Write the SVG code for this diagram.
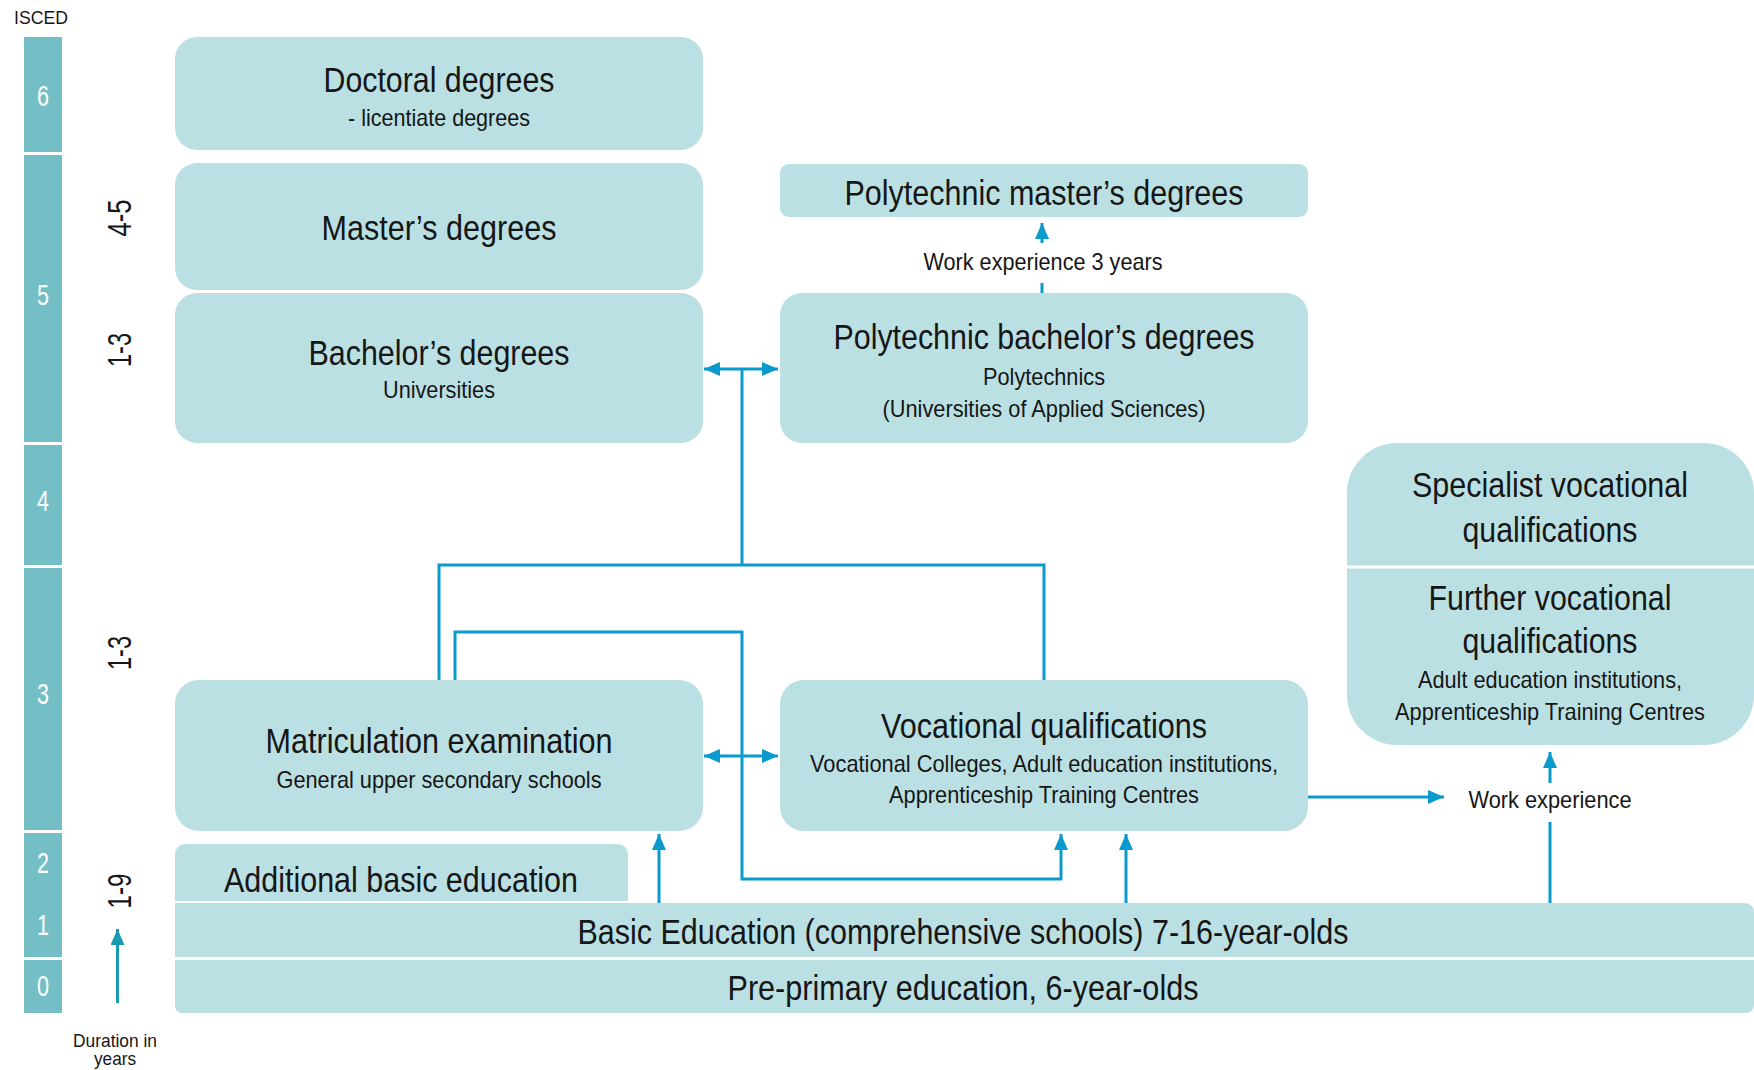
<svg xmlns="http://www.w3.org/2000/svg" width="1754" height="1070" viewBox="0 0 1754 1070">
  <style>
    text { font-family: "Liberation Sans", Arial, sans-serif; fill: #161616; text-anchor: middle; }
    .box { fill: #bbe0e3; }
    .lvl { fill: #74bfc5; }
    .lvl-num { fill: #ffffff; font-size: 29px; }
    .title { font-size: 35px; }
    .sub { font-size: 24px; }
    .small { font-size: 19px; }
    .dur { font-size: 33px; }
    .link { fill: none; stroke: #0a9acd; stroke-width: 3; }
    .link-teal { fill: none; stroke: #1a9ab2; stroke-width: 3; }
  </style>
  <defs>
    <marker id="arrow" markerUnits="userSpaceOnUse" markerWidth="16" markerHeight="14" refX="16" refY="7" orient="auto-start-reverse">
      <path d="M0,0 L16,7 L0,14 z" fill="#0a9acd"/>
    </marker>
    <marker id="arrow-teal" markerUnits="userSpaceOnUse" markerWidth="16" markerHeight="14" refX="16" refY="7" orient="auto">
      <path d="M0,0 L16,7 L0,14 z" fill="#1a9ab2"/>
    </marker>
  </defs>

  <!-- ISCED level scale -->
  <g id="isced-scale">
    <text class="small" x="41" y="24" textLength="54" lengthAdjust="spacingAndGlyphs">ISCED</text>
    <rect class="lvl" x="24" y="37" width="38" height="115"/>
    <rect class="lvl" x="24" y="155" width="38" height="287"/>
    <rect class="lvl" x="24" y="445" width="38" height="120"/>
    <rect class="lvl" x="24" y="568" width="38" height="262"/>
    <rect class="lvl" x="24" y="833" width="38" height="124"/>
    <rect class="lvl" x="24" y="960" width="38" height="53"/>
    <text class="lvl-num" x="43" y="106" textLength="12" lengthAdjust="spacingAndGlyphs">6</text>
    <text class="lvl-num" x="43" y="305" textLength="12" lengthAdjust="spacingAndGlyphs">5</text>
    <text class="lvl-num" x="43" y="511" textLength="12" lengthAdjust="spacingAndGlyphs">4</text>
    <text class="lvl-num" x="43" y="704" textLength="12" lengthAdjust="spacingAndGlyphs">3</text>
    <text class="lvl-num" x="43" y="873" textLength="12" lengthAdjust="spacingAndGlyphs">2</text>
    <text class="lvl-num" x="43" y="935" textLength="12" lengthAdjust="spacingAndGlyphs">1</text>
    <text class="lvl-num" x="43" y="996" textLength="12" lengthAdjust="spacingAndGlyphs">0</text>
  </g>

  <!-- Duration in years -->
  <g id="duration">
    <text class="dur" transform="translate(131,218) rotate(-90)" textLength="37" lengthAdjust="spacingAndGlyphs">4-5</text>
    <text class="dur" transform="translate(131,350) rotate(-90)" textLength="34" lengthAdjust="spacingAndGlyphs">1-3</text>
    <text class="dur" transform="translate(131,653) rotate(-90)" textLength="34" lengthAdjust="spacingAndGlyphs">1-3</text>
    <text class="dur" transform="translate(131,891) rotate(-90)" textLength="35" lengthAdjust="spacingAndGlyphs">1-9</text>
    <path class="link-teal" d="M117.5,1003 V929" marker-end="url(#arrow-teal)"/>
    <text class="small" x="115" y="1047" textLength="84" lengthAdjust="spacingAndGlyphs">Duration in</text>
    <text class="small" x="115" y="1065" textLength="42" lengthAdjust="spacingAndGlyphs">years</text>
  </g>

  <g id="doctoral">
    <rect class="box" x="175" y="37" width="528" height="113" rx="22"/>
    <text class="title" x="439" y="92" textLength="231" lengthAdjust="spacingAndGlyphs">Doctoral degrees</text>
    <text class="sub" x="439" y="126" textLength="182" lengthAdjust="spacingAndGlyphs">- licentiate degrees</text>
  </g>

  <g id="masters">
    <rect class="box" x="175" y="163" width="528" height="127" rx="22"/>
    <text class="title" x="439" y="240" textLength="235" lengthAdjust="spacingAndGlyphs">Master’s degrees</text>
  </g>

  <g id="bachelors">
    <rect class="box" x="175" y="293" width="528" height="150" rx="22"/>
    <text class="title" x="439" y="365" textLength="261" lengthAdjust="spacingAndGlyphs">Bachelor’s degrees</text>
    <text class="sub" x="439" y="398" textLength="112" lengthAdjust="spacingAndGlyphs">Universities</text>
  </g>

  <g id="poly-masters">
    <rect class="box" x="780" y="164" width="528" height="53" rx="9"/>
    <text class="title" x="1044" y="205" textLength="399" lengthAdjust="spacingAndGlyphs">Polytechnic master’s degrees</text>
  </g>

  <g id="poly-bachelors">
    <rect class="box" x="780" y="293" width="528" height="150" rx="22"/>
    <text class="title" x="1044" y="349" textLength="421" lengthAdjust="spacingAndGlyphs">Polytechnic bachelor’s degrees</text>
    <text class="sub" x="1044" y="385" textLength="122" lengthAdjust="spacingAndGlyphs">Polytechnics</text>
    <text class="sub" x="1044" y="417" textLength="323" lengthAdjust="spacingAndGlyphs">(Universities of Applied Sciences)</text>
  </g>

  <g id="specialist-further">
    <rect class="box" x="1347" y="443" width="407" height="302" rx="50"/>
    <line x1="1347" y1="567" x2="1754" y2="567" stroke="#ffffff" stroke-width="3"/>
    <text class="title" x="1550" y="497" textLength="276" lengthAdjust="spacingAndGlyphs">Specialist vocational</text>
    <text class="title" x="1550" y="542" textLength="175" lengthAdjust="spacingAndGlyphs">qualifications</text>
    <text class="title" x="1550" y="610" textLength="243" lengthAdjust="spacingAndGlyphs">Further vocational</text>
    <text class="title" x="1550" y="653" textLength="175" lengthAdjust="spacingAndGlyphs">qualifications</text>
    <text class="sub" x="1550" y="688" textLength="264" lengthAdjust="spacingAndGlyphs">Adult education institutions,</text>
    <text class="sub" x="1550" y="720" textLength="310" lengthAdjust="spacingAndGlyphs">Apprenticeship Training Centres</text>
  </g>

  <g id="matriculation">
    <rect class="box" x="175" y="680" width="528" height="151" rx="24"/>
    <text class="title" x="439" y="753" textLength="347" lengthAdjust="spacingAndGlyphs">Matriculation examination</text>
    <text class="sub" x="439" y="788" textLength="325" lengthAdjust="spacingAndGlyphs">General upper secondary schools</text>
  </g>

  <g id="vocational">
    <rect class="box" x="780" y="680" width="528" height="151" rx="24"/>
    <text class="title" x="1044" y="738" textLength="326" lengthAdjust="spacingAndGlyphs">Vocational qualifications</text>
    <text class="sub" x="1044" y="772" textLength="468" lengthAdjust="spacingAndGlyphs">Vocational Colleges, Adult education institutions,</text>
    <text class="sub" x="1044" y="803" textLength="310" lengthAdjust="spacingAndGlyphs">Apprenticeship Training Centres</text>
  </g>

  <g id="additional-basic">
    <path class="box" d="M175,901 V856 Q175,844 187,844 H616 Q628,844 628,856 V901 Z"/>
    <text class="title" x="401" y="892" textLength="354" lengthAdjust="spacingAndGlyphs">Additional basic education</text>
  </g>

  <g id="basic-education">
    <path class="box" d="M175,903 H1744 Q1754,903 1754,913 V957 H175 Z"/>
    <text class="title" x="963" y="944" textLength="771" lengthAdjust="spacingAndGlyphs">Basic Education (comprehensive schools) 7-16-year-olds</text>
  </g>

  <g id="pre-primary">
    <path class="box" d="M175,960 H1754 V1004 Q1754,1013 1745,1013 H183 Q175,1013 175,1005 Z"/>
    <text class="title" x="963" y="1000" textLength="471" lengthAdjust="spacingAndGlyphs">Pre-primary education, 6-year-olds</text>
  </g>

  <g id="work-experience">
    <text class="sub" x="1550" y="808" textLength="163" lengthAdjust="spacingAndGlyphs">Work experience</text>
  </g>

  <g id="connectors">
    <!-- bachelor's <-> polytechnic bachelor's -->
    <path class="link" d="M704,369 H778" marker-start="url(#arrow)" marker-end="url(#arrow)"/>
    <!-- upper secondary routes to higher education -->
    <path class="link" d="M742,369 V565 M439,680 V565 H1044 V680"/>
    <!-- matriculation <-> vocational -->
    <path class="link" d="M704,756 H778" marker-start="url(#arrow)" marker-end="url(#arrow)"/>
    <!-- matriculation to vocational qualifications -->
    <path class="link" d="M455,680 V632 H742 V879 H1061 V834" marker-end="url(#arrow)"/>
    <!-- basic education upwards -->
    <path class="link" d="M659,903 V834" marker-end="url(#arrow)"/>
    <path class="link" d="M1126,903 V834" marker-end="url(#arrow)"/>
    <!-- vocational to work experience -->
    <path class="link" d="M1308,797 H1444" marker-end="url(#arrow)"/>
    <!-- work experience to further vocational -->
    <path class="link" d="M1550,783 V752" marker-end="url(#arrow)"/>
    <path class="link" d="M1550,903 V822"/>
    <!-- polytechnic bachelor's to master's with work experience -->
    <path class="link" d="M1042,293 V283"/>
    <path class="link" d="M1042,243 V223" marker-end="url(#arrow)"/>
    <text class="sub" x="1043" y="270" textLength="239" lengthAdjust="spacingAndGlyphs">Work experience 3 years</text>
  </g>
</svg>
